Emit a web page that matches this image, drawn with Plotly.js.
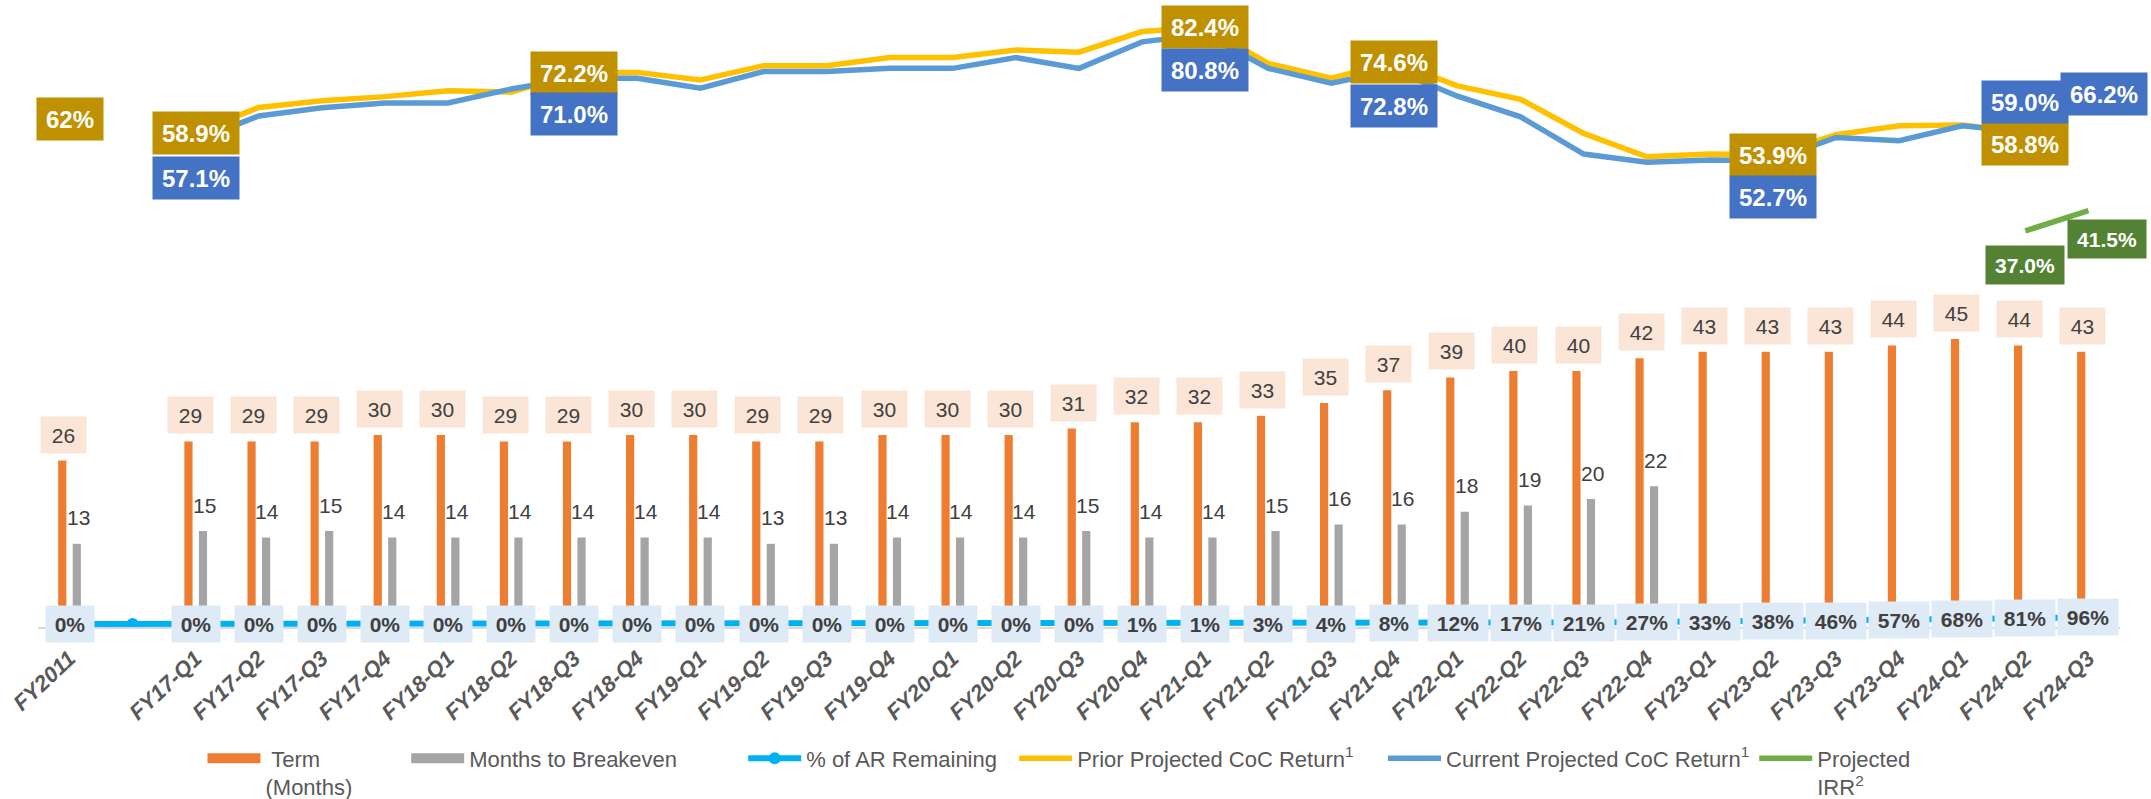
<!DOCTYPE html>
<html><head><meta charset="utf-8">
<script src="https://cdn.plot.ly/plotly-3.0.1.min.js"></script>
<style>html,body{margin:0;padding:0;background:#fff}#chart{width:2151px;height:799px}</style>
</head><body><div id="chart"></div>
<script>
// ---------------- DATA ----------------
const categories = ['FY2011','','FY17-Q1','FY17-Q2','FY17-Q3','FY17-Q4','FY18-Q1','FY18-Q2','FY18-Q3','FY18-Q4',
  'FY19-Q1','FY19-Q2','FY19-Q3','FY19-Q4','FY20-Q1','FY20-Q2','FY20-Q3','FY20-Q4','FY21-Q1','FY21-Q2','FY21-Q3','FY21-Q4',
  'FY22-Q1','FY22-Q2','FY22-Q3','FY22-Q4','FY23-Q1','FY23-Q2','FY23-Q3','FY23-Q4','FY24-Q1','FY24-Q2','FY24-Q3'];
const termMonths = [26,null, 29,29,29,30, 30,29,29,30, 30,29,29,30, 30,30,31,32, 32,33,35,37, 39,40,40,42, 43,43,43,44, 45,44,43];
const breakevenMonths = [13,null, 15,14,15,14, 14,14,14,14, 14,13,13,14, 14,14,15,14, 14,15,16,16, 18,19,20,22, null,null,null,null, null,null,null];
const arRemainingPct = [0,0, 0,0,0,0, 0,0,0,0, 0,0,0,0, 0,0,0,1, 1,3,4,8, 12,17,21,27, 33,38,46,57, 68,81,96];
const priorCoCPct = [62,null, 58.9,64.5,66.0,66.9, 68.2,67.9,72.2,72.3, 70.6,73.8,73.8,75.6, 75.6,77.3,76.8,81.4, 82.4,74.3,71.0,74.6, 69.3,66.3,58.7,53.5, 54.1,53.9,58.4,60.4, 60.6,58.8,null];
const currentCoCPct = [null,null, 57.1,62.6,64.4,65.5, 65.5,68.6,71.0,71.0, 68.8,72.5,72.5,73.2, 73.2,75.6,73.2,79.1, 80.8,73.2,69.9,72.8, 67.0,62.4,54.1,52.3, 52.8,52.7,57.8,57.1, 60.4,59.0,66.2];
const projectedIRRPct = [null,null, null,null,null,null, null,null,null,null, null,null,null,null, null,null,null,null, null,null,null,null, null,null,null,null, null,null,null,null, null,37.0,41.5];
const priorLabelIdx = [0,2,8,18,21,27,31];
const currentLabelIdx = [2,8,18,21,27,31,32];
const irrLabelIdx = [31,32];
const seriesNames = [' Term<br>(Months)','Months to Breakeven','% of AR Remaining','Prior Projected CoC Return<sup>1</sup>','Current Projected CoC Return<sup>1</sup>','Projected<br>IRR<sup>2</sup>'];

// ---------------- STYLE ----------------
const FONT = '"Liberation Sans", Arial, sans-serif';
const C = {term:'#ED7D31', be:'#A5A5A5', ar:'#00B0F0', prior:'#FFC000', cur:'#5B9BD5', irr:'#70AD47',
  priorLbl:'#BF9000', curLbl:'#4472C4', irrLbl:'#548235', termLbl:'#FBE5D6', arLbl:'#DEEBF7', txt:'#404040'};
const priorShift = {0:[0,0],2:[0,0],8:[0,0],18:[0,0],21:[0,0],27:[0,0],31:[0,-11]};
const priorDecimals = {0:0};
const currentShift = {2:[0,-37],8:[0,-36],18:[0,-36],21:[0,-36],27:[0,-37],31:[0,30],32:[16,6]};
const irrShift = {31:[0,-34],32:[19,-28]};
// extra legend spacing (non-breaking spaces appended to entry text)
const legendPad = [8, 10, 2, 4, 0, 0];

const mctx = document.createElement('canvas').getContext('2d');
function textW(t, size, bold){ mctx.font = (bold?'bold ':'') + size + 'px "Liberation Sans"'; return mctx.measureText(t).width; }
function padName(n, k){ const nb = '&nbsp;'.repeat(k); return n.includes('<br>') ? n.replace('<br>', nb + '<br>') + nb : n + nb; }

const xs = categories.map((_, i) => i);
const nullY = [null];

const traces = [
  {type:'bar', name:seriesNames[0], x:xs, y:termMonths, marker:{color:C.term}, width:0.13, offset:-0.18, yaxis:'y', showlegend:false},
  {type:'bar', name:seriesNames[1], x:xs, y:breakevenMonths, marker:{color:C.be}, width:0.13, offset:0.05, yaxis:'y', showlegend:false},
  // legend entries for the bar series (rectangular swatches)
  {type:'scatter', mode:'lines', name:padName(seriesNames[0], legendPad[0]), x:[0], y:nullY, line:{color:C.term, width:14}, yaxis:'y'},
  {type:'scatter', mode:'lines', name:padName(seriesNames[1], legendPad[1]), x:[0], y:nullY, line:{color:C.be, width:14}, yaxis:'y'},
  {type:'scatter', mode:'lines+markers', name:padName(seriesNames[2], legendPad[2]), x:xs, y:arRemainingPct, yaxis:'y2',
    line:{color:C.ar, width:6}, marker:{color:C.ar, size:12}},
  {type:'scatter', mode:'lines', name:padName(seriesNames[3], legendPad[3]), x:xs, y:priorCoCPct, yaxis:'y3', connectgaps:false,
    line:{color:C.prior, width:5.5}},
  {type:'scatter', mode:'lines', name:padName(seriesNames[4], legendPad[4]), x:xs, y:currentCoCPct, yaxis:'y3', connectgaps:false,
    line:{color:C.cur, width:5.5}},
  {type:'scatter', mode:'lines', name:padName(seriesNames[5], legendPad[5]), x:xs, y:projectedIRRPct, yaxis:'y3',
    line:{color:C.irr, width:5.5}}
];

const ann = [];
xs.forEach(i => {
  if (termMonths[i] != null) {
    const t = String(termMonths[i]);
    ann.push({x:i-0.09, y:termMonths[i], xref:'x', yref:'y', text:t, showarrow:false, yshift:26,
      bgcolor:C.termLbl, borderpad:0, width:Math.round(textW(t,21,false))+22, height:36,
      font:{family:FONT, size:21, color:C.txt}});
  }
  if (breakevenMonths[i] != null) {
    ann.push({x:i+0.135, y:breakevenMonths[i], xref:'x', yref:'y', text:String(breakevenMonths[i]), showarrow:false, yshift:26,
      font:{family:FONT, size:21, color:C.txt}});
  }
  if (categories[i] !== '' && arRemainingPct[i] != null) {
    const t = arRemainingPct[i] + '%';
    ann.push({x:i, y:arRemainingPct[i], xref:'x', yref:'y2', text:t, showarrow:false,
      bgcolor:C.arLbl, borderpad:0, width:Math.round(textW(t,21,true))+18, height:36,
      font:{family:FONT, size:21, color:C.txt, weight:'bold'}});
  }
});
function cocLabel(i, v, dec, sh, bg, size, h){
  const t = v.toFixed(dec) + '%';
  ann.push({x:i, y:v, xref:'x', yref:'y3', text:t, showarrow:false, xshift:sh[0], yshift:sh[1],
    bgcolor:bg, borderpad:0, width:Math.round(textW(t,size,true))+18, height:h,
    font:{family:FONT, size:size, color:'#FFFFFF', weight:'bold'}});
}
priorLabelIdx.forEach(i => cocLabel(i, priorCoCPct[i], priorDecimals[i] ?? 1, priorShift[i], C.priorLbl, 24, 42));
currentLabelIdx.forEach(i => cocLabel(i, currentCoCPct[i], 1, currentShift[i], C.curLbl, 24, 42));
irrLabelIdx.forEach(i => cocLabel(i, projectedIRRPct[i], 1, irrShift[i], C.irrLbl, 21, 38));

const PH = 627;
const barPx = 6.4;
const arPx = 0.071; const arZeroPx = 3;
const cocPx = 4.49; const cocRefV = 53.9, cocRefPx = 155;
const cocBottom = cocRefV - (PH - cocRefPx)/cocPx;
const cocTop = cocRefV + cocRefPx/cocPx;

const layout = {
  width:2151, height:799,
  margin:{l:38, r:31, t:0, b:172, autoexpand:false},
  paper_bgcolor:'#FFFFFF', plot_bgcolor:'#FFFFFF',
  barmode:'overlay', showlegend:true,
  xaxis:{range:[-0.5, 32.5], tickmode:'array', tickvals:xs, ticktext:categories, tickangle:-43,
    tickfont:{family:FONT, size:22, color:'#595959', weight:'bold', style:'italic'},
    showgrid:false, zeroline:false, showline:true, linecolor:'#D9D9D9', linewidth:2, ticks:'', ticklabelstandoff:8, fixedrange:true},
  yaxis:{range:[0, PH/barPx], visible:false, showgrid:false, zeroline:false, fixedrange:true},
  yaxis2:{range:[-arZeroPx/arPx, (PH-arZeroPx)/arPx], overlaying:'y', visible:false, showgrid:false, zeroline:false},
  yaxis3:{range:[cocBottom, cocTop], overlaying:'y', visible:false, showgrid:false, zeroline:false},
  legend:{orientation:'h', x:0.079, xanchor:'left', y:-0.176, yanchor:'top', valign:'top', itemwidth:53,
    font:{family:FONT, size:22, color:'#595959'}, bgcolor:'rgba(0,0,0,0)', traceorder:'normal'},
  annotations:ann
};

Plotly.newPlot('chart', traces, layout, {displayModeBar:false, staticPlot:true});
</script></body></html>
